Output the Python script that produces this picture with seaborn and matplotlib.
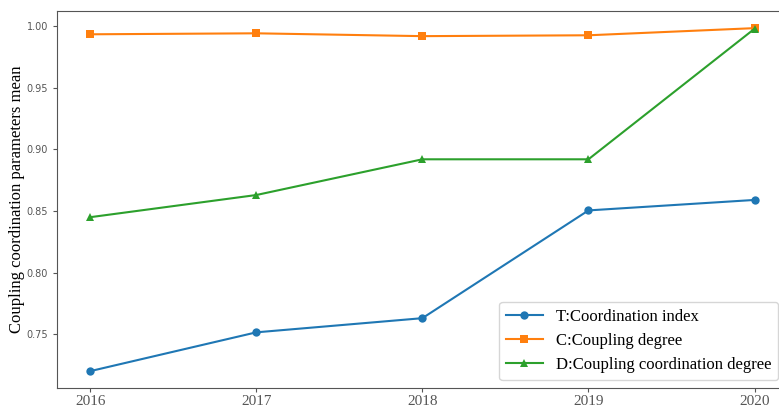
import matplotlib
matplotlib.use("Agg")
import matplotlib.pyplot as plt
import pandas as pd
import seaborn as sns

years = [2016, 2017, 2018, 2019, 2020]
t_index = [0.720, 0.7515, 0.763, 0.8505, 0.859]
c_degree = [0.9935, 0.9943, 0.992, 0.9927, 0.9985]
d_degree = [0.845, 0.863, 0.892, 0.892, 0.998]
series_names = [
    "T:Coordination index",
    "C:Coupling degree",
    "D:Coupling coordination degree",
]

df = pd.DataFrame({
    "year": years * 3,
    "value": t_index + c_degree + d_degree,
    "series": [n for n in series_names for _ in years],
})

serif = ["Liberation Serif", "DejaVu Serif"]

fig = plt.figure(figsize=(7.79, 4.07), dpi=100)
ax = fig.add_axes([0.0732, 0.046, 0.938, 0.927])

palette = ["#1f77b4", "#ff7f0e", "#2ca02c"]
markers = ["o", "s", "^"]
for name, col, mk in zip(series_names, palette, markers):
    sub = df[df["series"] == name]
    sns.lineplot(data=sub, x="year", y="value", ax=ax, color=col,
                 marker=mk, markersize=6, markeredgewidth=0, linewidth=1.5,
                 label=name)

ax.set_xticks(years)
ax.set_xticklabels([str(y) for y in years], fontfamily=serif, fontsize=11)
ax.set_yticks([0.75, 0.80, 0.85, 0.90, 0.95, 1.00])
ax.set_yticklabels(["0.75", "0.80", "0.85", "0.90", "0.95", "1.00"],
                   fontsize=7, color="#444444")
ax.set_xlabel("")
ax.set_ylabel("Coupling coordination parameters mean", fontfamily=serif,
              fontsize=12, labelpad=1)
for s in ax.spines.values():
    s.set_color("#555555")
ax.tick_params(colors="#555555", length=3)
ax.tick_params(axis="x", pad=1.5)

leg = ax.legend(loc="lower right", bbox_to_anchor=(0.9985, 0.0),
                prop={"family": serif, "size": 12}, handlelength=2.2)
leg.get_frame().set_edgecolor("#cccccc")

fig.savefig("out.png", dpi=100)
